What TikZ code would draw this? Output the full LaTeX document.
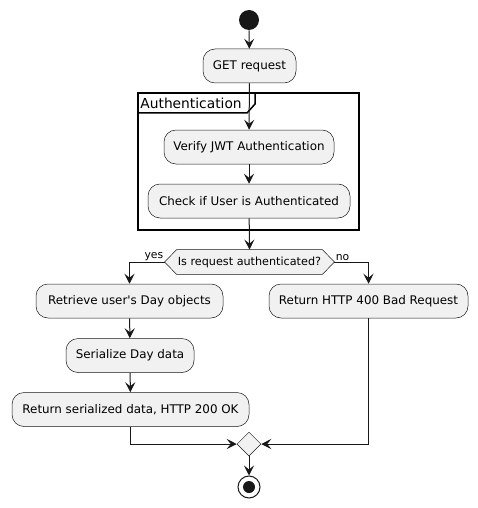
\documentclass[tikz,border=0pt]{standalone}
\usepackage{fontspec}
\setmainfont{DejaVu Sans}
\usetikzlibrary{arrows.meta,shapes.geometric}
\definecolor{boxfill}{HTML}{F1F1F1}
\definecolor{ink}{HTML}{181818}
\begin{document}
\begin{tikzpicture}[x=1pt, y=-1pt, thick,
		act/.style={draw=ink, line width=0.5pt, fill=boxfill, rounded corners=12pt, minimum height=34pt, inner sep=0pt, font=\fontsize{11.9}{13}\selectfont},
		flow/.style={draw=ink, line width=1pt, -{Stealth[length=10pt,width=10pt,inset=4pt]}},
		lab/.style={inner sep=1pt, font=\fontsize{10.8}{12}\selectfont}]
			\useasboundingbox (0,0) rectangle (478,508);
			
			\node[circle, fill=ink, minimum size=20pt, inner sep=0pt] (start) at (249,20) {};
			\node[act, minimum width=93pt] (get) at (249.5,66) {GET request};
			
			\draw[line width=1.5pt] (138,93) rectangle (359,230);
			\draw[line width=1.5pt] (138,113) -- (247,113) -- (255,104) -- (255,93);
			\node[anchor=west, inner sep=0pt, font=\fontsize{13.8}{15}\selectfont] (frame) at (140,103) {Authentication};
			
			\node[act, minimum width=170pt] (verify) at (249,147) {Verify JWT Authentication};
			\node[act, minimum width=202pt] (check) at (249,201) {Check if User is Authenticated};
			
			\node[minimum width=145pt, minimum height=24pt, inner sep=0pt] (auth) at (249.5,262) {};
			\draw[ink, line width=0.5pt, fill=boxfill] (auth.north west) -- (auth.north east) -- ([xshift=12pt]auth.east) -- (auth.south east) -- (auth.south west) -- ([xshift=-12pt]auth.west) -- cycle;
			\node[font=\fontsize{11.2}{12}\selectfont] at (auth) {Is request authenticated?};
			\coordinate (authL) at ([xshift=-12pt]auth.west);
			\coordinate (authR) at ([xshift=12pt]auth.east);
			\node[lab, anchor=south east] (yes) at (authL) {yes};
			\node[lab, anchor=south west] (no) at (authR) {no};
			
			\node[act, minimum width=187pt] (fetch) at (129.5,301) {Retrieve user\textquotesingle s Day objects};
			\node[act, minimum width=199pt] (bad) at (368.5,301) {Return HTTP 400 Bad Request};
			\node[act, minimum width=128pt] (serial) at (130,355.5) {Serialize Day data};
			\node[act, minimum width=237pt] (ok) at (130.5,409.5) {Return serialized data, HTTP 200 OK};
			
			\node[diamond, draw=ink, line width=0.5pt, fill=boxfill, minimum size=24pt, inner sep=0pt] (merge) at (249,444) {};
			\node[circle, draw=ink, line width=1pt, fill=white, minimum size=22pt, inner sep=0pt] (stop) at (249,487) {};
			\node[circle, fill=ink, minimum size=12pt, inner sep=0pt] at (stop) {};
			
			\draw[flow] (start) -- (get);
			\draw[flow] (get) -- (verify);
			\draw[flow] (verify) -- (check);
			\draw[flow] (check) -- (auth.north);
			\draw[flow] (authL) -| (fetch.north);
			\draw[flow] (authR) -| (bad.north);
			\draw[flow] (fetch) -- (serial);
			\draw[flow] (serial) -- (ok);
			\draw[flow] (ok.south) |- (merge.west);
			\draw[flow] (bad.south) |- (merge.east);
			\draw[flow] (merge) -- (stop);
			\end{tikzpicture}
\end{document}
